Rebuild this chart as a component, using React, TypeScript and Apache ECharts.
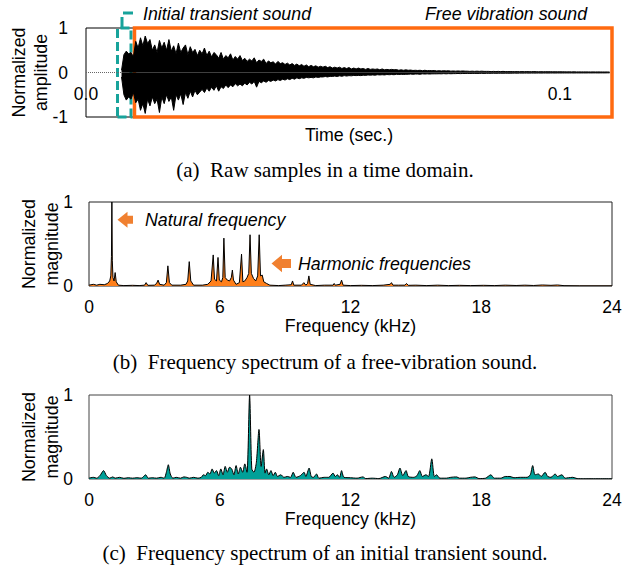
import React, { useEffect, useRef } from "react";
import * as echarts from "echarts";

// ---------- data ----------
const waveStart = 0.0075; // s, first sample of the envelopes
const waveStep = 0.0005; // s between envelope samples
// upper envelope of the raw samples (normalized amplitude)
const waveUpper: number[] = [
  0.05, 0.4, 0.48, 0.42, 0.45, 0.35, 0.7, 0.55, 0.78, 0.6,
  0.82, 0.65, 0.74, 0.5, 0.62, 0.45, 0.72, 0.55, 0.68, 0.5,
  0.74, 0.48, 0.6, 0.42, 0.66, 0.45, 0.55, 0.62, 0.4, 0.58,
  0.45, 0.52, 0.38, 0.5, 0.42, 0.55, 0.38, 0.48, 0.35, 0.45,
  0.4, 0.32, 0.45, 0.3, 0.38, 0.33, 0.42, 0.28, 0.36, 0.3,
  0.38, 0.27, 0.32, 0.25, 0.3, 0.26, 0.33, 0.22, 0.28, 0.25,
  0.3, 0.2, 0.26, 0.22, 0.24, 0.19, 0.25, 0.2, 0.22, 0.18,
  0.21, 0.17, 0.2, 0.16, 0.19, 0.15, 0.18, 0.14, 0.17, 0.13,
  0.16, 0.13, 0.15, 0.12, 0.14, 0.12, 0.14, 0.11, 0.13, 0.1,
  0.12, 0.1, 0.12, 0.09, 0.11, 0.09, 0.11, 0.08, 0.1, 0.08,
  0.1, 0.08, 0.09, 0.07, 0.09, 0.07, 0.08, 0.07, 0.08, 0.06,
  0.08, 0.06, 0.07, 0.06, 0.07, 0.06, 0.065, 0.05, 0.06, 0.05,
  0.06, 0.05, 0.055, 0.045, 0.05, 0.045, 0.05, 0.04, 0.05, 0.04,
  0.045, 0.04, 0.045, 0.035, 0.04, 0.035, 0.04, 0.035, 0.04, 0.03,
  0.035, 0.03, 0.035, 0.03, 0.035, 0.03, 0.03, 0.025, 0.03, 0.025,
  0.03, 0.025, 0.03, 0.025, 0.025, 0.025, 0.02, 0.025, 0.02, 0.025,
  0.02, 0.025, 0.02, 0.02, 0.02, 0.02, 0.018, 0.02, 0.018, 0.02,
  0.018, 0.02, 0.018, 0.018, 0.02, 0.018, 0.016, 0.018, 0.016, 0.018,
  0.016, 0.018, 0.015, 0.016, 0.015, 0.016, 0.015, 0.015, 0.014, 0.015,
  0.014, 0.015, 0.013, 0.014, 0.013, 0.014, 0.013, 0.013, 0.012, 0.013,
  0.012, 0.013, 0.012, 0.012, 0.011, 0.012, 0.01,
];
// lower envelope of the raw samples (normalized amplitude)
const waveLower: number[] = [
  -0.1, -0.5, -0.62, -0.55, -0.6, -0.45, -0.68, -0.6, -0.85, -0.7,
  -0.92, -0.6, -0.75, -0.55, -0.7, -0.6, -0.9, -0.55, -0.7, -0.5,
  -0.65, -0.55, -0.85, -0.5, -0.62, -0.48, -0.72, -0.45, -0.58, -0.42,
  -0.55, -0.4, -0.5, -0.44, -0.38, -0.45, -0.35, -0.42, -0.33, -0.4,
  -0.3, -0.42, -0.32, -0.36, -0.28, -0.34, -0.28, -0.32, -0.25, -0.3,
  -0.26, -0.3, -0.24, -0.28, -0.22, -0.26, -0.2, -0.33, -0.2, -0.23,
  -0.19, -0.22, -0.18, -0.2, -0.17, -0.19, -0.16, -0.18, -0.15, -0.17,
  -0.14, -0.16, -0.13, -0.15, -0.12, -0.14, -0.12, -0.13, -0.11, -0.12,
  -0.11, -0.12, -0.1, -0.11, -0.1, -0.1, -0.09, -0.1, -0.085, -0.09,
  -0.08, -0.09, -0.075, -0.085, -0.07, -0.08, -0.07, -0.075, -0.065, -0.07,
  -0.065, -0.07, -0.06, -0.065, -0.055, -0.06, -0.055, -0.06, -0.05, -0.055,
  -0.05, -0.055, -0.045, -0.05, -0.045, -0.05, -0.04, -0.045, -0.04, -0.045,
  -0.04, -0.04, -0.035, -0.04, -0.035, -0.035, -0.04, -0.03, -0.035, -0.03,
  -0.035, -0.03, -0.03, -0.03, -0.028, -0.03, -0.025, -0.03, -0.025, -0.028,
  -0.025, -0.025, -0.022, -0.025, -0.022, -0.022, -0.02, -0.022, -0.02, -0.02,
  -0.02, -0.02, -0.018, -0.02, -0.018, -0.018, -0.018, -0.016, -0.018, -0.016,
  -0.016, -0.016, -0.015, -0.016, -0.015, -0.015, -0.014, -0.015, -0.014, -0.014,
  -0.014, -0.013, -0.014, -0.013, -0.013, -0.013, -0.012, -0.013, -0.012, -0.012,
  -0.012, -0.012, -0.011, -0.012, -0.011, -0.011, -0.011, -0.011, -0.01, -0.011,
  -0.01, -0.011, -0.01, -0.01, -0.01, -0.01, -0.01, -0.009, -0.01, -0.009,
  -0.009, -0.01, -0.009, -0.009, -0.009, -0.008, -0.008,
];
const silence: [number, number][] = [
  [0, 0],
  [0.0075, 0],
];
const transientSpan: [number, number] = [0.00665, 0.0095];
const freeVibSpan: [number, number] = [0.01023, 0.111];
const timeTickLabels = [0, 0.1];

// frequency spectrum of free vibration sound [kHz, normalized magnitude]
const freeVibSpectrum: [number, number][] = [
  [0, 0.01], [0.2, 0.02], [0.35, 0.01], [0.5, 0.02], [0.7, 0.015], [0.85, 0.03],
  [0.95, 0.06], [1.0, 0.12], [1.03, 0.35], [1.05, 1.0], [1.07, 0.3], [1.1, 0.1],
  [1.15, 0.06], [1.2, 0.16], [1.25, 0.05], [1.35, 0.01], [1.6, 0.005], [2.0, 0.008],
  [2.3, 0.005], [2.55, 0.01], [2.62, 0.04], [2.7, 0.008], [3.0, 0.01], [3.1, 0.03],
  [3.17, 0.07], [3.24, 0.02], [3.45, 0.01], [3.55, 0.04], [3.62, 0.24], [3.69, 0.04],
  [3.8, 0.01], [4.2, 0.01], [4.45, 0.02], [4.53, 0.06], [4.6, 0.29], [4.67, 0.06],
  [4.8, 0.01], [5.2, 0.01], [5.45, 0.02], [5.6, 0.06], [5.7, 0.37], [5.76, 0.08],
  [5.85, 0.06], [5.92, 0.34], [5.98, 0.07], [6.08, 0.05], [6.14, 0.1], [6.19, 0.57],
  [6.25, 0.1], [6.35, 0.07], [6.45, 0.06], [6.53, 0.1], [6.58, 0.19], [6.63, 0.07],
  [6.75, 0.02], [6.9, 0.04], [7.0, 0.38], [7.06, 0.05], [7.15, 0.06], [7.25, 0.1],
  [7.33, 0.15], [7.39, 0.61], [7.45, 0.15], [7.55, 0.09], [7.65, 0.06], [7.74, 0.12],
  [7.81, 0.61], [7.87, 0.12], [7.95, 0.13], [8.02, 0.05], [8.15, 0.03], [8.3, 0.01],
  [8.7, 0.005], [9.0, 0.01], [9.28, 0.015], [9.34, 0.06], [9.4, 0.01], [9.75, 0.01],
  [9.86, 0.04], [9.95, 0.01], [10.03, 0.03], [10.09, 0.12], [10.15, 0.02], [10.4, 0.005],
  [10.8, 0.01], [11.2, 0.01], [11.25, 0.03], [11.3, 0.01], [11.52, 0.02], [11.59, 0.07],
  [11.66, 0.01], [12, 0.005], [12.5, 0.008], [13, 0.005], [13.5, 0.01], [13.82, 0.02],
  [13.88, 0.04], [13.95, 0.01], [14.2, 0.01], [14.5, 0.01], [14.57, 0.03], [14.65, 0.008],
  [15.0, 0.01], [15.5, 0.005], [16, 0.01], [16.5, 0.005], [17, 0.008], [17.5, 0.005],
  [18.1, 0.008], [18.6, 0.005], [19.1, 0.01], [19.6, 0.006], [20.0, 0.01], [20.4, 0.006],
  [20.8, 0.012], [21.2, 0.008], [21.5, 0.012], [21.8, 0.004], [22.5, 0.002], [24, 0.002],
];

// frequency spectrum of initial transient sound [kHz, normalized magnitude]
const transientSpectrum: [number, number][] = [
  [0, 0.01], [0.2, 0.02], [0.35, 0.01], [0.5, 0.04], [0.67, 0.1], [0.8, 0.04],
  [0.95, 0.01], [1.09, 0.025], [1.2, 0.01], [1.4, 0.02], [1.6, 0.008], [1.8, 0.015],
  [2.0, 0.01], [2.2, 0.015], [2.4, 0.01], [2.6, 0.05], [2.72, 0.01], [2.9, 0.015],
  [3.1, 0.01], [3.3, 0.02], [3.45, 0.01], [3.55, 0.08], [3.64, 0.17], [3.73, 0.06],
  [3.85, 0.01], [4.0, 0.02], [4.2, 0.01], [4.35, 0.025], [4.48, 0.02], [4.6, 0.01],
  [4.8, 0.02], [5.0, 0.01], [5.15, 0.02], [5.25, 0.05], [5.35, 0.04], [5.45, 0.08],
  [5.55, 0.06], [5.65, 0.12], [5.75, 0.07], [5.85, 0.1], [5.95, 0.04], [6.05, 0.12],
  [6.15, 0.05], [6.25, 0.15], [6.35, 0.08], [6.45, 0.14], [6.55, 0.12], [6.65, 0.05],
  [6.75, 0.16], [6.85, 0.06], [6.95, 0.14], [7.05, 0.08], [7.15, 0.18], [7.25, 0.08],
  [7.37, 1.0], [7.47, 0.12], [7.57, 0.08], [7.68, 0.2], [7.8, 0.59], [7.9, 0.15],
  [8.0, 0.35], [8.08, 0.07], [8.15, 0.12], [8.25, 0.05], [8.35, 0.1], [8.45, 0.04],
  [8.55, 0.08], [8.65, 0.03], [8.8, 0.05], [8.95, 0.02], [9.1, 0.03], [9.25, 0.02],
  [9.37, 0.08], [9.5, 0.02], [9.7, 0.04], [9.87, 0.08], [9.95, 0.03], [10.1, 0.13],
  [10.2, 0.03], [10.3, 0.02], [10.44, 0.06], [10.55, 0.01], [10.8, 0.02], [11.0, 0.02],
  [11.2, 0.07], [11.3, 0.03], [11.4, 0.05], [11.5, 0.02], [11.59, 0.1], [11.7, 0.02],
  [12.0, 0.015], [12.3, 0.01], [12.57, 0.025], [12.7, 0.005], [13.0, 0.01], [13.3, 0.005],
  [13.6, 0.03], [13.75, 0.01], [13.88, 0.09], [14.0, 0.02], [14.15, 0.05], [14.27, 0.13],
  [14.4, 0.04], [14.55, 0.1], [14.65, 0.03], [14.9, 0.02], [15.05, 0.04], [15.18, 0.1],
  [15.3, 0.03], [15.46, 0.05], [15.58, 0.03], [15.73, 0.24], [15.85, 0.03], [15.95, 0.05],
  [16.1, 0.01], [16.4, 0.01], [16.6, 0.02], [16.87, 0.025], [17.0, 0.01], [17.3, 0.01],
  [17.5, 0.02], [17.71, 0.025], [17.9, 0.005], [18.2, 0.01], [18.44, 0.05], [18.6, 0.01],
  [18.9, 0.01], [19.1, 0.03], [19.32, 0.03], [19.5, 0.015], [19.8, 0.02], [20.1, 0.02],
  [20.25, 0.05], [20.36, 0.16], [20.47, 0.05], [20.62, 0.06], [20.75, 0.03], [20.93, 0.08],
  [21.05, 0.03], [21.2, 0.02], [21.39, 0.06], [21.5, 0.03], [21.7, 0.05], [21.85, 0.01],
  [22.0, 0.015], [22.2, 0.02], [22.4, 0.005], [22.7, 0.003], [24, 0.003],
];

const captions = [
  "(a)  Raw samples in a time domain.",
  "(b)  Frequency spectrum of a free-vibration sound.",
  "(c)  Frequency spectrum of an initial transient sound.",
];

// ---------- styles ----------
const SANS = '"Liberation Sans", Arial, sans-serif';
const SERIF = '"Liberation Serif", "Times New Roman", serif';
const ORANGE_BOX = "#ff6a10";
const ORANGE = "#f08030";
const ORANGE_FILL = "#ff7f1a";
const TEAL = "#17a39b";
const TEAL_FILL = "#00a098";
const TXT = 17.8;

export default function App() {
  const ref = useRef<HTMLDivElement>(null);

  useEffect(() => {
    if (!ref.current) return;
    const chart = echarts.init(ref.current, undefined, { renderer: "svg" });

    const toPairs = (vals: number[]): [number, number][] =>
      vals.map((v, i) => [waveStart + i * waveStep, v]);

    const tickLabel = { color: "#000", fontSize: 17.5, fontFamily: SANS };
    const nameStyle = { color: "#000", fontSize: TXT, fontFamily: SANS };
    const hidden = { show: false };

    const freqAxis = (gi: number) => ({
      gridIndex: gi,
      type: "value",
      min: 0,
      max: 24,
      interval: 6,
      axisLine: hidden,
      axisTick: hidden,
      splitLine: hidden,
      axisLabel: { ...tickLabel, margin: 12, lineHeight: 17 },
      name: "Frequency (kHz)",
      nameLocation: "middle",
      nameGap: 31,
      nameMoveOverlap: false,
      nameTextStyle: { ...nameStyle, lineHeight: 18 },
    });
    const magAxis = (gi: number) => ({
      gridIndex: gi,
      type: "value",
      min: 0,
      max: 1,
      interval: 1,
      axisLine: hidden,
      axisTick: hidden,
      splitLine: hidden,
      axisLabel: { ...tickLabel, margin: 16 },
      name: "Normalized\nmagnitude",
      nameLocation: "middle",
      nameRotate: 90,
      nameGap: 26,
      nameMoveOverlap: false,
      nameTextStyle: { ...nameStyle, lineHeight: 23 },
    });

    const arrow = (tipX: number, cy: number, headLen: number, headH: number, shaftH: number, totalLen: number) => ({
      type: "polygon",
      shape: {
        points: [
          [tipX, cy],
          [tipX + headLen, cy - headH / 2],
          [tipX + headLen, cy - shaftH / 2],
          [tipX + totalLen, cy - shaftH / 2],
          [tipX + totalLen, cy + shaftH / 2],
          [tipX + headLen, cy + shaftH / 2],
          [tipX + headLen, cy + headH / 2],
        ],
      },
      style: { fill: ORANGE },
      z: 100,
    });

    const italic = (text: string, x: number, y: number) => ({
      type: "text",
      x,
      y,
      z: 100,
      style: {
        text,
        fill: "#000",
        fontSize: TXT,
        fontStyle: "italic",
        fontFamily: SANS,
        align: "left",
        verticalAlign: "middle",
      },
    });
    const caption = (text: string, y: number) => ({
      type: "text",
      x: 325,
      y,
      z: 100,
      style: {
        text,
        fill: "#000",
        fontSize: 21,
        fontFamily: SERIF,
        align: "center",
        verticalAlign: "middle",
      },
    });

    const envelope = (vals: number[]) => ({
      type: "line",
      xAxisIndex: 0,
      yAxisIndex: 0,
      data: toPairs(vals),
      showSymbol: false,
      lineStyle: { color: "#000", width: 1 },
      areaStyle: { color: "#000", opacity: 1, origin: 0 },
      z: 2,
    });

    const option = {
      animation: false,
      backgroundColor: "#fff",
      textStyle: { fontFamily: SANS },
      grid: [
        { left: 86, top: 28, width: 526, height: 89, show: true, borderColor: "#000", borderWidth: 1, outerBoundsMode: "none", containLabel: false },
        { left: 89, top: 202, width: 523, height: 84, show: true, borderColor: "#222", borderWidth: 1, outerBoundsMode: "none", containLabel: false },
        { left: 89, top: 395, width: 523, height: 84, show: true, borderColor: "#444", borderWidth: 1, outerBoundsMode: "none", containLabel: false },
      ],
      xAxis: [
        {
          gridIndex: 0,
          type: "value",
          min: 0,
          max: 0.111,
          interval: 0.1,
          axisLine: hidden,
          axisTick: hidden,
          splitLine: hidden,
          axisLabel: {
            ...tickLabel,
            inside: true,
            margin: 14,
            formatter: (v: number) =>
              timeTickLabels.some((t) => Math.abs(t - v) < 1e-9) ? v.toFixed(1) : "",
          },
          name: "Time (sec.)",
          nameLocation: "middle",
          nameGap: 9,
          nameMoveOverlap: false,
          nameTextStyle: nameStyle,
        },
        freqAxis(1),
        freqAxis(2),
      ],
      yAxis: [
        {
          gridIndex: 0,
          type: "value",
          min: -1,
          max: 1,
          interval: 1,
          axisLine: hidden,
          axisTick: hidden,
          splitLine: hidden,
          axisLabel: { ...tickLabel, margin: 18 },
          name: "Normalized\namplitude",
          nameLocation: "middle",
          nameRotate: 90,
          nameGap: 34,
          nameMoveOverlap: false,
          nameTextStyle: { ...nameStyle, lineHeight: 22 },
        },
        magAxis(1),
        magAxis(2),
      ],
      series: [
        {
          type: "line",
          xAxisIndex: 0,
          yAxisIndex: 0,
          data: silence,
          showSymbol: false,
          lineStyle: { color: "#666", width: 1, type: "dotted" },
          z: 3,
          markArea: {
            silent: true,
            label: { show: false },
            data: [
              [
                {
                  xAxis: transientSpan[0],
                  itemStyle: { color: "rgba(0,0,0,0)", borderColor: TEAL, borderWidth: 3, borderType: [9, 4] },
                },
                { xAxis: transientSpan[1] },
              ],
              [
                {
                  xAxis: freeVibSpan[0],
                  itemStyle: { color: "rgba(0,0,0,0)", borderColor: ORANGE_BOX, borderWidth: 3.5 },
                },
                { xAxis: freeVibSpan[1] },
              ],
            ],
          },
        },
        envelope(waveUpper),
        envelope(waveLower),
        {
          type: "line",
          xAxisIndex: 1,
          yAxisIndex: 1,
          data: freeVibSpectrum,
          showSymbol: false,
          lineStyle: { color: "#000", width: 1 },
          areaStyle: { color: ORANGE_FILL, opacity: 1 },
        },
        {
          type: "line",
          xAxisIndex: 2,
          yAxisIndex: 2,
          data: transientSpectrum,
          showSymbol: false,
          smooth: 0.25,
          lineStyle: { color: "#000", width: 1 },
          areaStyle: { color: TEAL_FILL, opacity: 1 },
        },
      ],
      graphic: [
        italic("Initial transient sound", 143, 14),
        italic("Free vibration sound", 425, 14),
        italic("Natural frequency", 145, 220),
        italic("Harmonic frequencies", 298, 264),
        arrow(117.5, 219.7, 10, 16, 8, 15.5),
        arrow(271.5, 263.5, 10.5, 17.5, 9, 19.5),
        {
          type: "line",
          shape: { x1: 123, y1: 13, x2: 133, y2: 13 },
          style: { stroke: TEAL, lineWidth: 3 },
          z: 100,
        },
        {
          type: "line",
          shape: { x1: 122, y1: 17, x2: 122, y2: 28 },
          style: { stroke: TEAL, lineWidth: 3 },
          z: 100,
        },
        caption(captions[0], 170),
        caption(captions[1], 362),
        caption(captions[2], 553),
      ],
    };

    chart.setOption(option as any);
    return () => chart.dispose();
  }, []);

  return (
    <div
      ref={ref}
      style={{ position: "fixed", left: 0, top: 0, width: 633, height: 568, background: "#fff" }}
    />
  );
}
